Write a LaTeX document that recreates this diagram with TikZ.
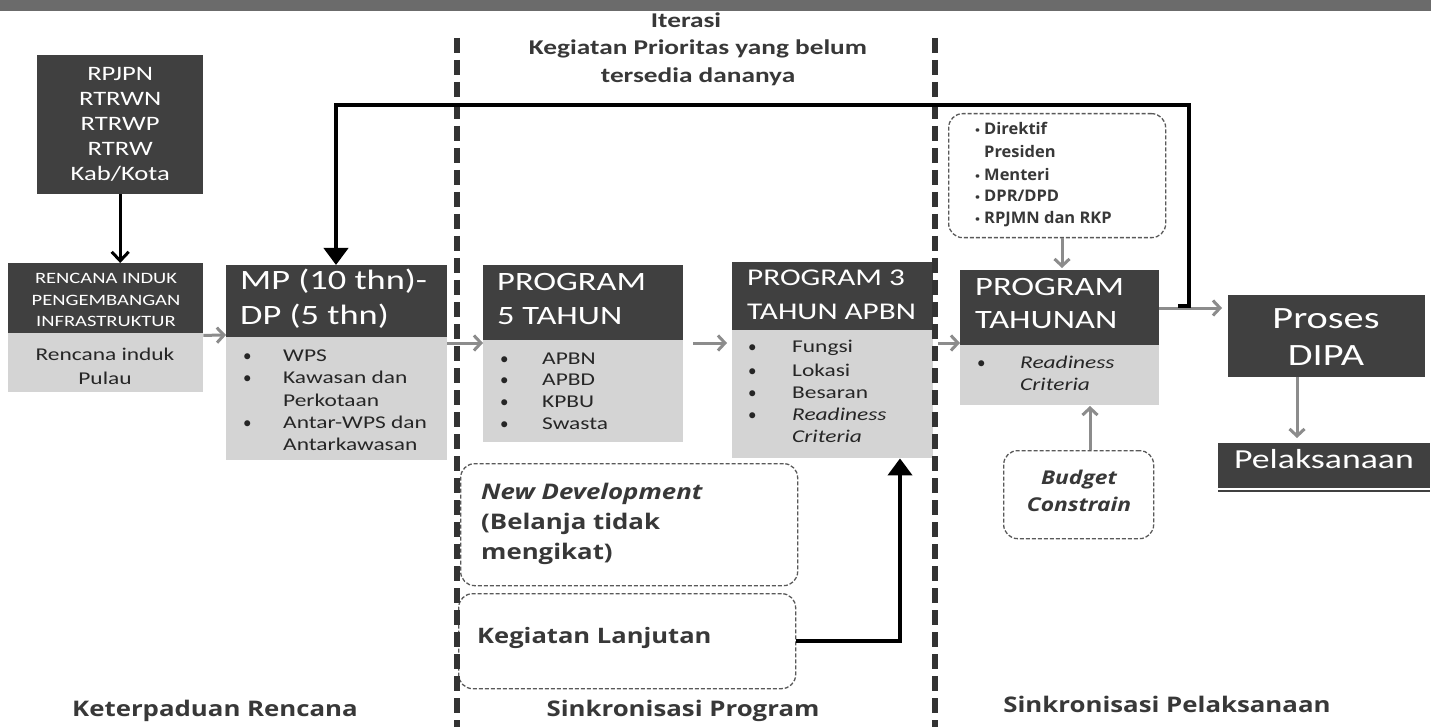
\documentclass[tikz,border=0pt]{standalone}
\usepackage{fontspec}
\setmainfont{Carlito}
\newfontfamily\bx[FakeStretch=1.3]{Carlito}
\newfontfamily\lb[FakeStretch=1.2]{Open Sans}
\newfontfamily\lbn[FakeStretch=1.03]{Open Sans}
\usetikzlibrary{arrows.meta}
\definecolor{dk}{HTML}{404040}
\definecolor{lt}{HTML}{D4D4D4}
\definecolor{ar}{HTML}{8C8C8C}
\definecolor{tx}{HTML}{262626}
\definecolor{lbc}{HTML}{383838}
\tikzset{
  dkbox/.style={fill=dk, draw=none, anchor=north west, inner sep=0},
  ltbox/.style={fill=lt, draw=none, anchor=north west, inner sep=0},
  dbox/.style={draw=black!65, dash pattern=on 4pt off 2pt, line width=1.3pt, rounded corners=14pt, anchor=north west, inner sep=0},
  ln/.style={inner sep=0, anchor=west, text height=0.7em, text depth=0.2em},
  cl/.style={inner sep=0, anchor=center, text height=0.7em, text depth=0.2em},
  wt/.style={text=white},
  bk/.style={text=tx},
  garrow/.style={draw=ar, line width=3pt, -{Straight Barb[width=15pt,length=7pt]}},
  barrow/.style={draw=black, line width=4pt, -{Triangle[width=24pt,length=17pt]}},
  sarrow/.style={draw=black, line width=3pt, -{Straight Barb[width=17pt,length=9pt]}},
  sep/.style={draw=black!80, line width=5.5pt, dash pattern=on 15pt off 7pt},
  itf/.style={cl, text=lbc, font=\bx\bfseries\fontsize{21}{26}\selectfont},
  bul/.style={ln, bk, font=\fontsize{17}{20}\selectfont},
  itm/.style={ln, bk, font=\bx\fontsize{18}{20}\selectfont},
  dirf/.style={ln, text=lbc, font=\lbn\bfseries\fontsize{16}{18}\selectfont},
  labf/.style={cl, text=lbc, font=\lb\bfseries\fontsize{21.5}{26}\selectfont},
}
\begin{document}
\begin{tikzpicture}[x=1pt,y=-1pt]
\useasboundingbox (0,0) rectangle (1437,727);
\fill[white] (0,0) rectangle (1437,727);
% top bar
\node[fill=black!58, draw=none, anchor=north west, inner sep=0, minimum width=1431pt, minimum height=11pt] (bar) at (0,0) {};

% separators
\coordinate (s1t) at (457,38); \coordinate (s1b) at (457,727);
\coordinate (s2t) at (935,38); \coordinate (s2b) at (935,727);

% header text
\node[itf] (it1) at (686,25) {Iterasi};
\node[itf] (it2) at (698,52) {Kegiatan Prioritas yang belum};
\node[itf] (it3) at (698,80) {tersedia dananya};

% RPJPN box
\node[dkbox, minimum width=166pt, minimum height=139pt] (rpj) at (37,55) {};
\node[wt, inner sep=0, align=center, font=\bx\fontsize{20.5}{25}\selectfont] (rpjt) at (rpj.center) {RPJPN\\RTRWN\\RTRWP\\RTRW\\Kab/Kota};

% Rencana induk
\node[dkbox, minimum width=195pt, minimum height=70pt] (rid) at (8,263) {};
\node[ltbox, minimum width=195pt, minimum height=59pt] (ril) at (8,333) {};
\node[wt, inner sep=0, align=center, font=\bx\fontsize{15.8}{21.5}\selectfont] (ridt) at (106,300) {RENCANA INDUK\\PENGEMBANGAN\\INFRASTRUKTUR};
\node[bk, inner sep=0, align=center, font=\bx\fontsize{18}{24}\selectfont] (rilt) at (105,366) {Rencana induk\\Pulau};

% MP box
\node[dkbox, minimum width=221pt, minimum height=72pt] (mpd) at (226,265) {};
\node[ltbox, minimum width=221pt, minimum height=123pt] (mpl) at (226,337) {};
\node[ln, wt, font=\bx\fontsize{28}{32}\selectfont] (mpt1) at (240,287) {MP (10 thn)-};
\node[ln, wt, font=\bx\fontsize{28}{32}\selectfont] (mpt2) at (240,322) {DP (5 thn)};
\foreach \n/\yy in {a/359,b/381,c/426}{
  \node[bul] (mpb\n) at (243,\yy) {•};}
\node[itm] (mpi1) at (283,359) {WPS};
\node[itm] (mpi2) at (283,381) {Kawasan dan};
\node[itm] (mpi3) at (283,404) {Perkotaan};
\node[itm] (mpi4) at (283,426) {Antar-WPS dan};
\node[itm] (mpi5) at (283,448) {Antarkawasan};

% Program 5 tahun
\node[dkbox, minimum width=200pt, minimum height=75pt] (p5d) at (483,265) {};
\node[ltbox, minimum width=200pt, minimum height=102pt] (p5l) at (483,340) {};
\node[ln, wt, font=\bx\fontsize{26.5}{30}\selectfont] (p5t1) at (497,288) {PROGRAM};
\node[ln, wt, font=\bx\fontsize{26.5}{30}\selectfont] (p5t2) at (497,322) {5 TAHUN};
\foreach \n/\yy in {a/362,b/383,c/405,d/427}{
  \node[bul] (p5b\n) at (500,\yy) {•};}
\node[itm] (p5i1) at (542,362) {APBN};
\node[itm] (p5i2) at (542,383) {APBD};
\node[itm] (p5i3) at (542,405) {KPBU};
\node[itm] (p5i4) at (542,427) {Swasta};

% Program 3 tahun APBN
\node[dkbox, minimum width=201pt, minimum height=68pt] (p3d) at (732,262) {};
\node[ltbox, minimum width=201pt, minimum height=128pt] (p3l) at (732,330) {};
\node[ln, wt, font=\bx\fontsize{24}{28}\selectfont] (p3t1) at (747,283) {PROGRAM 3};
\node[ln, wt, font=\bx\fontsize{24}{28}\selectfont] (p3t2) at (747,317) {TAHUN APBN};
\foreach \n/\yy in {a/350,b/374,c/396,d/418}{
  \node[bul] (p3b\n) at (748,\yy) {•};}
\node[itm] (p3i1) at (792,350) {Fungsi};
\node[itm] (p3i2) at (792,374) {Lokasi};
\node[itm] (p3i3) at (792,396) {Besaran};
\node[itm, font=\bx\itshape\fontsize{18}{20}\selectfont] (p3i4) at (792,418) {Readiness};
\node[itm, font=\bx\itshape\fontsize{18}{20}\selectfont] (p3i5) at (792,440) {Criteria};

% Program tahunan
\node[dkbox, minimum width=199pt, minimum height=75pt] (ptd) at (960,270) {};
\node[ltbox, minimum width=199pt, minimum height=60pt] (ptl) at (960,345) {};
\node[ln, wt, font=\bx\fontsize{26.5}{30}\selectfont] (ptt1) at (975,293) {PROGRAM};
\node[ln, wt, font=\bx\fontsize{26.5}{30}\selectfont] (ptt2) at (975,326) {TAHUNAN};
\node[bul] (ptb) at (977,366) {•};
\node[itm, font=\bx\itshape\fontsize{18}{20}\selectfont] (pti1) at (1020,366) {Readiness};
\node[itm, font=\bx\itshape\fontsize{18}{20}\selectfont] (pti2) at (1020,388) {Criteria};

% Direktif box
\node[dbox, minimum width=217pt, minimum height=124pt] (dir) at (948,113) {};
\foreach \n/\yy in {a/132,b/178,c/199,d/221}{
  \node[ln, text=lbc, font=\lb\bfseries\fontsize{11}{14}\selectfont] (dirb\n) at (975,\yy) {•};}
\node[dirf] (dir1) at (984,132) {Direktif};
\node[dirf] (dir2) at (984,155) {Presiden};
\node[dirf] (dir3) at (984,178) {Menteri};
\node[dirf] (dir4) at (984,199) {DPR/DPD};
\node[dirf] (dir5) at (984,221) {RPJMN dan RKP};

% Budget constrain
\node[dbox, minimum width=150pt, minimum height=88pt] (bud) at (1003,450) {};
\node[cl, text=lbc, font=\lb\bfseries\itshape\fontsize{19}{22}\selectfont] (bud1) at (1079,482) {Budget};
\node[cl, text=lbc, font=\lb\bfseries\itshape\fontsize{19}{22}\selectfont] (bud2) at (1079,509) {Constrain};

% Proses DIPA
\node[dkbox, minimum width=197pt, minimum height=82pt] (dipa) at (1228,295) {};
\node[wt, inner sep=0, align=center, font=\bx\fontsize{31}{37}\selectfont] (dipat) at (1326,337) {Proses\\DIPA};

% Pelaksanaan
\node[dkbox, minimum width=212pt, minimum height=45pt] (pel) at (1218,443) {};
\node[cl, wt, font=\bx\fontsize{27.5}{30}\selectfont] (pelt) at (1324,466) {Pelaksanaan};
\draw[dk, line width=1.2pt] (pel.south west) ++(0,2.5) -- ++(212,0);

% New development
\node[dbox, minimum width=337pt, minimum height=122pt] (nd) at (460,463) {};
\node[ln, text=lbc, font=\lb\bfseries\itshape\fontsize{21.5}{24}\selectfont] (nd1) at (481,497) {New Development};
\node[ln, text=lbc, font=\lb\bfseries\fontsize{21.5}{24}\selectfont] (nd2) at (481,527) {(Belanja tidak};
\node[ln, text=lbc, font=\lb\bfseries\fontsize{21.5}{24}\selectfont] (nd3) at (481,557) {mengikat)};

% Kegiatan lanjutan
\node[dbox, minimum width=337pt, minimum height=95pt] (kl) at (458,593) {};
\node[ln, text=lbc, font=\lb\bfseries\fontsize{21.3}{24}\selectfont] (klt) at (477,641) {Kegiatan Lanjutan};

% bottom labels
\node[labf] (lab1) at (215,714) {Keterpaduan Rencana};
\node[labf] (lab2) at (683,714) {Sinkronisasi Program};
\node[labf] (lab3) at (1167,710) {Sinkronisasi Pelaksanaan};

% separators
\draw[sep] (s1t) -- (s1b);
\draw[sep] (s2t) -- (s2b);

% gray arrows
\draw[garrow] (rid.south east) ++(0,2) -- (mpd.south west |- 0,335);
\draw[garrow] (447,343) -- (p5d.south west |- 0,343);
\draw[garrow] (693,343) -- (727,343);
\draw[garrow] (938,343) -- (ptd.west |- 0,343);
\draw[garrow] (dir.south -| 1062,0) -- (1062,268);
\draw[garrow] (bud.north -| 1090,0) -- (1090,406);
\draw[garrow] (ptd.east |- 0,308) -- (1222,308);
\draw[garrow] (dipa.south -| 1297,0) -- (1297,438);

% black arrows
\draw[sarrow] (rpj.south) -- (rpj.south |- rid.north);
\coordinate (lp0) at (1178,306);
\coordinate (lp1) at (1189,306);
\coordinate (lp2) at (1189,105);
\coordinate (lp3) at (336,105);
\draw[barrow] (lp0) -- (lp1) -- (lp2) -- (lp3) -- (lp3 |- mpd.north);
\coordinate (kc) at (900,641);
\draw[barrow] (kl.east |- kc) -- (kc) -- (kc |- p3l.south);
\end{tikzpicture}
\end{document}
